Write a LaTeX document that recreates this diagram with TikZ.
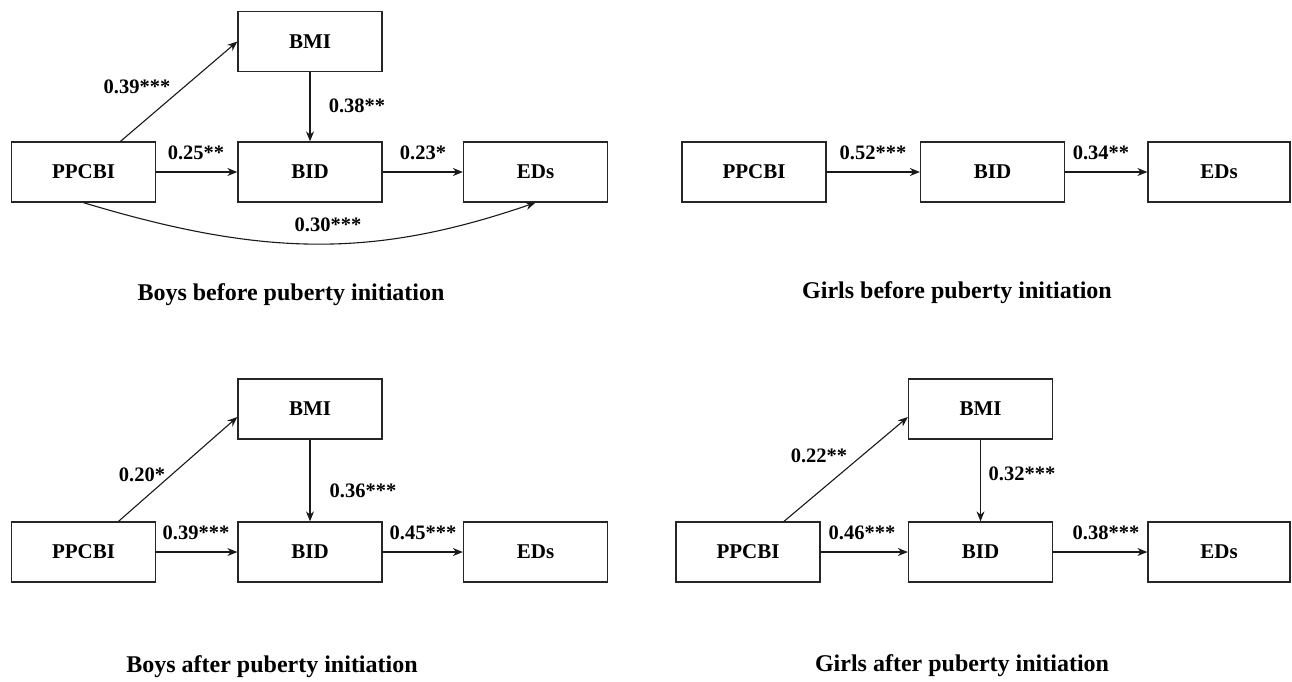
\documentclass[tikz,border=0pt]{standalone}
\usepackage{fontspec}
\setmainfont{Liberation Serif}
\usetikzlibrary{arrows.meta,calc}
\begin{document}
\begin{tikzpicture}[x=1pt,y=-1pt,
  box/.style={draw=black!85,line width=1.3pt,minimum width=144pt,minimum height=60pt,inner sep=0pt,
    font=\fontsize{21}{25}\selectfont\bfseries},
  boxr/.style={box,minimum width=142pt},
  lab/.style={font=\fontsize{20.5}{24}\selectfont\bfseries,inner sep=0pt},
  captxt/.style={font=\fontsize{24}{28}\selectfont\bfseries,inner sep=0pt},
  arr/.style={draw=black!90,line width=1.1pt,-{Stealth[length=10pt,width=8pt]}}]
\useasboundingbox (0,0) rectangle (1292,681);
% ---------- Boys before ----------
\node[box] (tlM) at (310,41.5) {BMI};
\node[box] (tlP) at (83.5,172) {PPCBI};
\node[box] (tlB) at (310,172) {BID};
\node[box] (tlE) at (535.5,172) {EDs};
\draw[arr] ([xshift=37pt]tlP.north) -- (tlM.west);
\draw[arr] (tlM.south) -- (tlB.north);
\draw[arr] (tlP.east) -- (tlB.west);
\draw[arr] (tlB.east) -- (tlE.west);
\draw[arr] (tlP.south) .. controls ($(tlP.south)+(182,55)$) and ($(tlE.south)+(-160,55)$) .. (tlE.south);
\node[lab] (tl1) at (137,87) {0.39***};
\node[lab] (tl2) at (357,106) {0.38**};
\node[lab] (tl3) at (196,153) {0.25**};
\node[lab] (tl4) at (423,153) {0.23*};
\node[lab] (tl5) at (328,225) {0.30***};
\node[captxt] (tlC) at (291,295) {Boys before puberty initiation};
% ---------- Girls before ----------
\node[box] (trP) at (754,172) {PPCBI};
\node[box] (trB) at (992.5,172) {BID};
\node[boxr] (trE) at (1219,172) {EDs};
\draw[arr] (trP.east) -- (trB.west);
\draw[arr] (trB.east) -- (trE.west);
\node[lab] (tr1) at (873,153) {0.52***};
\node[lab] (tr2) at (1101,153) {0.34**};
\node[captxt] (trC) at (957,293) {Girls before puberty initiation};
% ---------- Boys after ----------
\node[box] (blM) at (310,409) {BMI};
\node[box] (blP) at (83.5,552) {PPCBI};
\node[box] (blB) at (310,552) {BID};
\node[box] (blE) at (535.5,552) {EDs};
\draw[arr] ([xshift=35pt]blP.north) -- ([yshift=-8pt]blM.west);
\draw[arr] (blM.south) -- (blB.north);
\draw[arr] (blP.east) -- (blB.west);
\draw[arr] (blB.east) -- (blE.west);
\node[lab] (bl1) at (142,475) {0.20*};
\node[lab] (bl2) at (363,491) {0.36***};
\node[lab] (bl3) at (196,533) {0.39***};
\node[lab] (bl4) at (423,533) {0.45***};
\node[captxt] (blC) at (272,667) {Boys after puberty initiation};
% ---------- Girls after ----------
\node[box] (brM) at (980.5,409) {BMI};
\node[box] (brP) at (748,552) {PPCBI};
\node[box] (brB) at (980.5,552) {BID};
\node[boxr] (brE) at (1219,552) {EDs};
\draw[arr] ([xshift=36pt]brP.north) -- ([yshift=-8pt]brM.west);
\draw[arr] (brM.south) -- (brB.north);
\draw[arr] (brP.east) -- (brB.west);
\draw[arr] (brB.east) -- (brE.west);
\node[lab] (br1) at (819,456) {0.22**};
\node[lab] (br2) at (1022,474) {0.32***};
\node[lab] (br3) at (862,533) {0.46***};
\node[lab] (br4) at (1106,533) {0.38***};
\node[captxt] (brC) at (962,666) {Girls after puberty initiation};
\end{tikzpicture}
\end{document}
